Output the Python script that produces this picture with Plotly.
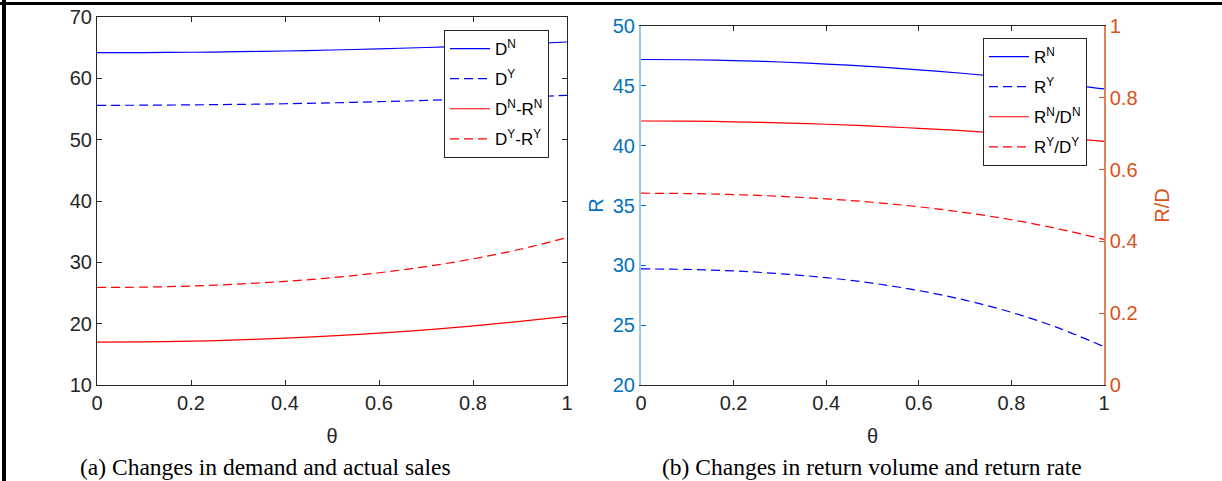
import plotly.graph_objects as go

W, H = 1222, 481

theta = [0.0, 0.1, 0.2, 0.3, 0.4, 0.5, 0.6, 0.7, 0.8, 0.9, 1.0]

# (a) demand and actual sales
D_N = [64.18, 64.20, 64.25, 64.34, 64.46, 64.62, 64.81, 65.03, 65.29, 65.59, 65.92]
D_Y = [55.60, 55.62, 55.67, 55.75, 55.86, 56.01, 56.19, 56.40, 56.64, 56.92, 57.23]
DN_minus_RN = [16.98, 17.02, 17.14, 17.35, 17.64, 18.01, 18.47, 19.00, 19.63, 20.36, 21.18]
DY_minus_RY = [25.90, 25.96, 26.14, 26.45, 26.89, 27.50, 28.30, 29.31, 30.57, 32.13, 34.03]

# (b) return volume and return rate
R_N = [47.20, 47.18, 47.11, 46.99, 46.82, 46.61, 46.34, 46.03, 45.66, 45.23, 44.74]
R_Y = [29.70, 29.66, 29.53, 29.30, 28.97, 28.51, 27.89, 27.09, 26.07, 24.79, 23.20]
RN_over_DN = [0.7354, 0.7349, 0.7332, 0.7303, 0.7263, 0.7213, 0.7150, 0.7078, 0.6993, 0.6896, 0.6787]
RY_over_DY = [0.5342, 0.5333, 0.5304, 0.5256, 0.5186, 0.5090, 0.4964, 0.4803, 0.4603, 0.4355, 0.4054]

x_ticks = [0, 0.2, 0.4, 0.6, 0.8, 1]
ya_ticks = [10, 20, 30, 40, 50, 60, 70]
yb_ticks = [20, 25, 30, 35, 40, 45, 50]
yc_ticks = [0, 0.2, 0.4, 0.6, 0.8, 1]

BLUE = "#0000FF"
RED = "#FF0000"
AX = "#262626"
MBLUE = "#0072BD"
MORANGE = "#D95319"
DASH = "9px,5px"
SANS = "Liberation Sans, Arial, sans-serif"


def px(x):
    return x / W


def py(y):
    return 1 - y / H


fig = go.Figure()
lw = 1.2

series_a = [
    (D_N, "D<sup>N</sup>", BLUE, None),
    (D_Y, "D<sup>Y</sup>", BLUE, DASH),
    (DN_minus_RN, "D<sup>N</sup>-R<sup>N</sup>", RED, None),
    (DY_minus_RY, "D<sup>Y</sup>-R<sup>Y</sup>", RED, DASH),
]
for i, (vals, name, col, dash) in enumerate(series_a):
    fig.add_trace(go.Scatter(x=theta, y=vals, mode="lines",
                             line=dict(color=col, width=lw, dash=dash, shape="spline"),
                             name=name, xaxis="x", yaxis="y", legend="legend",
                             legendgroup=f"a{i}"))

series_b = [
    (R_N, "R<sup>N</sup>", BLUE, None, "y2"),
    (R_Y, "R<sup>Y</sup>", BLUE, DASH, "y2"),
    (RN_over_DN, "R<sup>N</sup>/D<sup>N</sup>", RED, None, "y3"),
    (RY_over_DY, "R<sup>Y</sup>/D<sup>Y</sup>", RED, DASH, "y3"),
]
for i, (vals, name, col, dash, yax) in enumerate(series_b):
    fig.add_trace(go.Scatter(x=theta, y=vals, mode="lines",
                             line=dict(color=col, width=lw, dash=dash, shape="spline"),
                             name=name, xaxis="x2", yaxis=yax, legend="legend2",
                             legendgroup=f"b{i}"))

tickfont = dict(family=SANS, size=20, color=AX)

common_x = dict(range=[0, 1], tickvals=x_ticks, ticks="inside", ticklen=5, tickcolor=AX,
                showline=True, linecolor=AX, linewidth=1, mirror="ticks", showgrid=False,
                zeroline=False, tickfont=tickfont, automargin=False,
                title=dict(text="θ", font=dict(family=SANS, size=20, color=AX), standoff=15))

legend_common = dict(xanchor="left", yanchor="top", bgcolor="white", bordercolor=AX, borderwidth=1,
                     font=dict(family=SANS, size=17, color="#000000"),
                     tracegroupgap=5, itemwidth=40)

fig.update_layout(
    width=W, height=H,
    margin=dict(l=0, r=0, t=0, b=0, autoexpand=False),
    paper_bgcolor="white", plot_bgcolor="white",
    showlegend=True,
    xaxis=dict(domain=[px(97), px(567)], anchor="y", **common_x),
    yaxis=dict(domain=[py(385), py(17)], range=[10, 70], tickvals=ya_ticks, anchor="x",
               ticks="inside", ticklen=5, tickcolor=AX, showline=True, linecolor=AX, linewidth=1,
               mirror="ticks", showgrid=False, zeroline=False, tickfont=tickfont, automargin=False),
    xaxis2=dict(domain=[px(641), px(1104)], anchor="y2", **common_x),
    yaxis2=dict(domain=[py(385), py(26)], range=[20, 50], tickvals=yb_ticks, anchor="x2",
                ticks="inside", ticklen=5, tickcolor=MBLUE, showline=True, linecolor="#9CC8E8", linewidth=2,
                showgrid=False, zeroline=False, automargin=False,
                tickfont=dict(family=SANS, size=20, color=MBLUE),
                title=dict(text="R", font=dict(family=SANS, size=20, color=MBLUE), standoff=4)),
    yaxis3=dict(domain=[py(385), py(26)], range=[0, 1], tickvals=yc_ticks, anchor="x2",
                overlaying="y2", side="right",
                ticks="inside", ticklen=5, tickcolor=MORANGE, showline=True, linecolor="#E0825A", linewidth=1.5,
                showgrid=False, zeroline=False, automargin=False,
                tickfont=dict(family=SANS, size=20, color=MORANGE),
                title=dict(text="R/D", font=dict(family=SANS, size=20, color=MORANGE), standoff=18)),
    legend=dict(x=px(444), y=py(30), **legend_common),
    legend2=dict(x=px(983), y=py(38), **legend_common),
)

# captions
cap_font = dict(family="Liberation Serif, Times New Roman, serif", size=23.5, color="black")
fig.add_annotation(text="(a) Changes in demand and actual sales", x=px(265), y=py(467),
                   xref="paper", yref="paper", showarrow=False, font=cap_font, xanchor="center", yanchor="middle")
fig.add_annotation(text="(b) Changes in return volume and return rate", x=px(872), y=py(467),
                   xref="paper", yref="paper", showarrow=False, font=cap_font, xanchor="center", yanchor="middle")

# figure frame (top and left edges visible)
fig.add_shape(type="line", xref="paper", yref="paper", x0=0, x1=1, y0=py(3.5), y1=py(3.5),
              line=dict(color="black", width=3))
fig.add_shape(type="line", xref="paper", yref="paper", x0=px(4), x1=px(4), y0=0, y1=1,
              line=dict(color="black", width=4))

fig.write_html("out.html", config={"displayModeBar": False},
               post_script="document.body.style.margin='0';document.body.style.overflow='hidden';")
